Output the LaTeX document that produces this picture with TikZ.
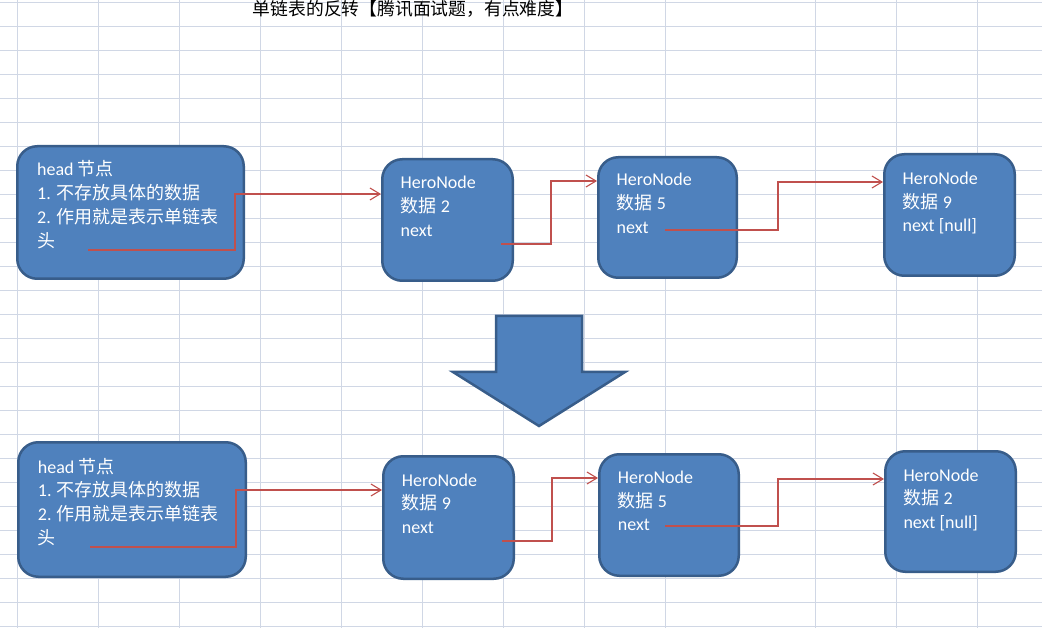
\documentclass[tikz,border=0pt]{standalone}
\usepackage{fontspec}
\setmainfont{Carlito}
\newfontfamily\cjk{Noto Sans CJK SC}
\newfontfamily\titlefont{Noto Sans CJK SC}
\usepackage{tikz}
\usetikzlibrary{arrows.meta,positioning}
\usepackage{xcolor}
\definecolor{boxblue}{HTML}{4F81BD}
\definecolor{boxedge}{HTML}{385D8A}
\definecolor{linkred}{HTML}{C0504D}
\definecolor{gridline}{HTML}{D0D7E5}
\newcommand{\zh}[1]{{\cjk #1}}

\begin{document}
\begin{tikzpicture}[
    x=1pt, y=-1pt,
    cell/.style={draw=gridline, line width=0.9pt},
    listbox/.style={rectangle, rounded corners=20pt, draw=boxedge, fill=boxblue,
                    line width=2.5pt, inner sep=0pt},
    boxtext/.style={anchor=base west, inner sep=0pt, align=left, text=white,
                    font=\fontsize{18}{23.8}\selectfont},
    link/.style={draw=linkred, line width=1.1pt, -{Straight Barb[length=10pt,width=12pt]}},
    bigarrow/.style={draw=boxedge, fill=boxblue, line width=2.5pt, line join=miter}
  ]
  \useasboundingbox (0,0) rectangle (1042,628);

  % sheet grid
  \foreach \gx in {17,98,179,260,341,422,503,584,665,815,896,977}
    \draw[cell] (\gx,0) -- (\gx,628);
  \foreach \k in {0,...,26}
    \draw[cell] (0,2.3+24*\k) -- (1042,2.3+24*\k);

  \node[inner sep=0pt, font=\titlefont\fontsize{17.8}{20}\selectfont] (title) at (413,8.5)
    {单链表的反转【腾讯面试题，有点难度】};

  % before
  \node[listbox, minimum width=226.5, minimum height=132.5] (h1) at (130.5,212.5) {};
  \node[listbox, minimum width=130.5, minimum height=121.5] (n1) at (447.5,220) {};
  \node[listbox, minimum width=138.5, minimum height=120.5] (n2) at (667.5,217.5) {};
  \node[listbox, minimum width=130.5, minimum height=121.5] (n3) at (949.5,215) {};

  % text anchored on the baseline of its last line
  \node[boxtext] (h1t) at (37,247.4) {head \zh{节点}\\1. \zh{不存放具体的数据}\\2. \zh{作用就是表示单链表}\\\zh{头}};
  \node[boxtext] (n1t) at (400.5,236.6) {HeroNode\\\zh{数据} 2\\next};
  \node[boxtext] (n2t) at (616.5,233.3) {HeroNode\\\zh{数据} 5\\next};
  \node[boxtext] (n3t) at (902.5,231.9) {HeroNode\\\zh{数据} 9\\next [null]};

  % after
  \node[listbox, minimum width=227.5, minimum height=134.5] (h2) at (132,509.5) {};
  \node[listbox, minimum width=130.5, minimum height=122.5] (m1) at (448.5,517.5) {};
  \node[listbox, minimum width=139.5, minimum height=121.5] (m2) at (669,515) {};
  \node[listbox, minimum width=130.5, minimum height=120.5] (m3) at (950.5,511.5) {};

  \node[boxtext] (h2t) at (37.7,544.4) {head \zh{节点}\\1. \zh{不存放具体的数据}\\2. \zh{作用就是表示单链表}\\\zh{头}};
  \node[boxtext] (m1t) at (401.7,533.6) {HeroNode\\\zh{数据} 9\\next};
  \node[boxtext] (m2t) at (617.7,530.9) {HeroNode\\\zh{数据} 5\\next};
  \node[boxtext] (m3t) at (903.3,528.6) {HeroNode\\\zh{数据} 2\\next [null]};

  \coordinate (h1next) at (88,250);
  \coordinate (n1next) at (501,244);
  \coordinate (n2next) at (665,230);
  \coordinate (h2next) at (90,547);
  \coordinate (m1next) at (502,541);
  \coordinate (m2next) at (665,526);

  \draw[link] (h1next) -- ++(147,0) |- ([yshift=26pt]n1.west);
  \draw[link] (n1next) -- ++(50,0) |- ([yshift=36.5pt]n2.west);
  \draw[link] (n2next) -- ++(113,0) |- ([yshift=33pt]n3.west);

  \draw[link] (h2next) -- ++(146,0) |- ([yshift=27.5pt]m1.west);
  \draw[link] (m1next) -- ++(50,0) |- ([yshift=37pt]m2.west);
  \draw[link] (m2next) -- ++(113,0) |- ([yshift=32.5pt]m3.west);

  % reverse
  \draw[bigarrow] (496,316) -- (582,316) -- (582,372) -- (625,372) -- (539,426)
    -- (453,372) -- (496,372) -- cycle;
\end{tikzpicture}
\end{document}
